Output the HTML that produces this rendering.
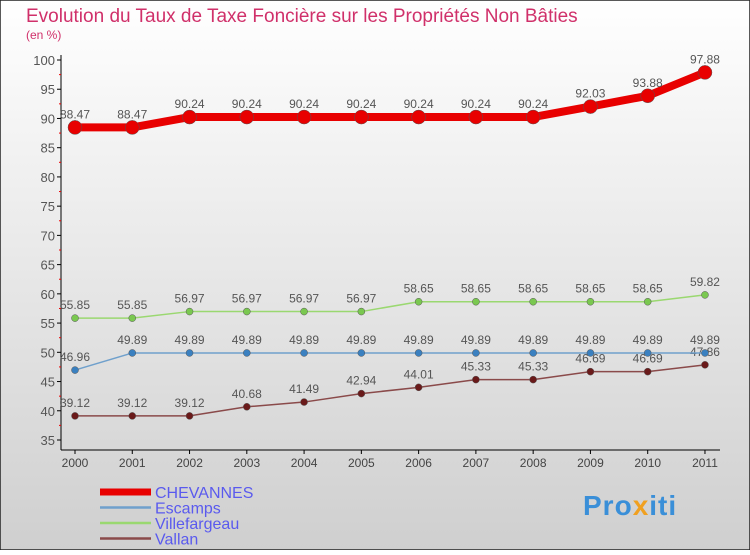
<!DOCTYPE html>
<html><head><meta charset="utf-8"><style>
body{margin:0;width:750px;height:550px;overflow:hidden;font-family:"Liberation Sans",sans-serif}
</style></head><body>
<svg id="c" width="750" height="550" xmlns="http://www.w3.org/2000/svg">
<defs><linearGradient id="bg" x1="0" y1="0" x2="0" y2="1"><stop offset="0" stop-color="#ffffff"/><stop offset="1" stop-color="#cfcfcf"/></linearGradient></defs>
<rect x="0" y="0" width="750" height="550" fill="url(#bg)" stroke="#222" stroke-width="1.5"/>
<text x="26" y="22" font-size="19" fill="#d0306a">Evolution du Taux de Taxe Foncière sur les Propriétés Non Bâties</text>
<text x="26" y="39" font-size="12" fill="#d0306a">(en %)</text>
<g id="axes"></g><g id="series"></g><g id="legend"></g>
<text x="583" y="515" font-size="28" font-weight="bold" fill="#3a8fd8" letter-spacing="1">Pro<tspan fill="#f0a020">x</tspan>iti</text>
</svg>
<script>
const years=[2000,2001,2002,2003,2004,2005,2006,2007,2008,2009,2010,2011];
const yTicks=[35,40,45,50,55,60,65,70,75,80,85,90,95,100];
const chevannes=[88.47,88.47,90.24,90.24,90.24,90.24,90.24,90.24,90.24,92.03,93.88,97.88];
const escamps=[46.96,49.89,49.89,49.89,49.89,49.89,49.89,49.89,49.89,49.89,49.89,49.89];
const villefargeau=[55.85,55.85,56.97,56.97,56.97,56.97,58.65,58.65,58.65,58.65,58.65,59.82];
const vallan=[39.12,39.12,39.12,40.68,41.49,42.94,44.01,45.33,45.33,46.69,46.69,47.86];
const seriesNames=["CHEVANNES","Escamps","Villefargeau","Vallan"];
const NS="http://www.w3.org/2000/svg";
const X=i=>75+i*57.27, Y=v=>440-(v-35)*380/65;
function mk(t,a,p){const e=document.createElementNS(NS,t);for(const k in a)e.setAttribute(k,a[k]);p.appendChild(e);return e;}
const ax=document.getElementById('axes');
let l=mk('line',{x1:61,y1:55,x2:61,y2:450,stroke:'#000'},ax);


l=mk('line',{x1:61,y1:450,x2:720,y2:450,stroke:'#000'},ax);


yTicks.forEach(v=>{const y=Y(v);
 mk('line',{x1:57,y1:y,x2:61,y2:y,stroke:'#000'},ax);
 if(v<100)mk('line',{x1:59,y1:Y(v+2.5),x2:61,y2:Y(v+2.5),stroke:'#e00'},ax);
 const t=mk('text',{x:55,y:y+5,'text-anchor':'end','font-size':13,fill:'#555'},ax);t.textContent=v;
 
 });
years.forEach((yr,i)=>{const x=X(i);
 mk('line',{x1:x,y1:450,x2:x,y2:454,stroke:'#000'},ax);
 const t=mk('text',{x:x,y:467,'text-anchor':'middle','font-size':12,fill:'#444'},ax);t.textContent=yr;
 
 });
const sg=document.getElementById('series');
function draw(data,col,dot,w,r,name){
 const g=mk('g',{},sg);
 
 
 mk('polyline',{points:data.map((v,i)=>X(i)+','+Y(v)).join(' '),fill:'none',stroke:col,'stroke-width':w,'stroke-linejoin':'round'},g);
 data.forEach((v,i)=>{const c=mk('circle',{cx:X(i),cy:Y(v),r:r,fill:dot,stroke:'#555','stroke-width':0.5},g);
  
  
  const t=mk('text',{x:X(i),y:Y(v)-9,'text-anchor':'middle','font-size':12,fill:'#555'},g);t.textContent=v.toFixed(2);
  
  });
}
draw(vallan,'#8a4a4a','#6a1a1a',1.5,3.5,'series-vallan');
draw(escamps,'#6fa0cc','#3a80c0',1.5,3.5,'series-escamps');
draw(villefargeau,'#9ad870','#7ac850',1.5,3.5,'series-villefargeau');
draw(chevannes,'#e80000','#e80000',8,7,'series-chevannes');
const lg=document.getElementById('legend');
const lc=['#e80000','#6fa0cc','#9ad870','#8a4a4a'],lw=[7,2.5,2.5,2.5];
seriesNames.forEach((n,i)=>{const y=492+i*15.5;
 const g=mk('g',{},lg);
 
 
 mk('line',{x1:100,y1:y,x2:151,y2:y,stroke:lc[i],'stroke-width':lw[i]},g);
 const t=mk('text',{x:155,y:y+6,'font-size':16,fill:'#5a5aee'},g);t.textContent=n;});
</script>
</body></html>
